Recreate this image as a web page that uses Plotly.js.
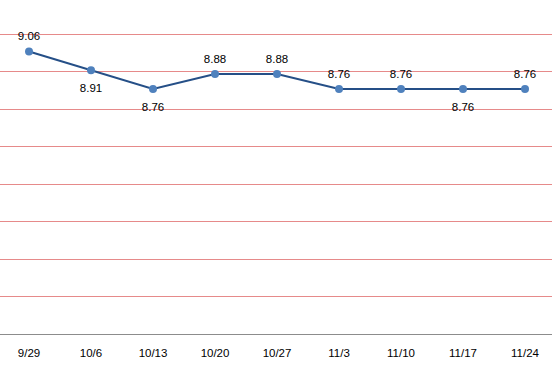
<!DOCTYPE html>
<html>
<head>
<meta charset="utf-8">
<script src="https://cdn.plot.ly/plotly-3.0.1.min.js"></script>
<style>html,body{margin:0;padding:0;background:#fff;}#chart{width:552px;height:377px;}</style>
</head>
<body>
<div id="chart"></div>
<script>
const categories = ["9/29","10/6","10/13","10/20","10/27","11/3","11/10","11/17","11/24"];
const values = [9.06, 8.91, 8.76, 8.88, 8.88, 8.76, 8.76, 8.76, 8.76];
const labelTexts = ["9.06","8.91","8.76","8.88","8.88","8.76","8.76","8.76","8.76"];
const labelPositions = ["top center","bottom center","bottom center","top center","top center","top center","top center","bottom center","top center"];

const FONT = "Liberation Sans, Arial, sans-serif";

const lineTrace = {
  type: "scatter",
  mode: "lines+markers",
  x: categories,
  y: values,
  line: {color: "#254f87", width: 2},
  marker: {color: "#4f81bd", size: 8},
  hoverinfo: "none"
};

function labelTrace(pos, spacerSize) {
  const idx = labelPositions.map((p, i) => p === pos ? i : -1).filter(i => i >= 0);
  return {
    type: "scatter",
    mode: "markers+text",
    x: idx.map(i => categories[i]),
    y: idx.map(i => values[i]),
    text: idx.map(i => labelTexts[i]),
    textposition: pos,
    textfont: {family: FONT, size: 11.5, color: "#000"},
    cliponaxis: false,
    marker: {size: spacerSize, color: "rgba(0,0,0,0)"},
    hoverinfo: "none"
  };
}

const layout = {
  width: 552, height: 377,
  margin: {l: 0, r: 0, t: 31, b: 43, pad: 0},
  paper_bgcolor: "#fff", plot_bgcolor: "#fff",
  showlegend: false,
  font: {family: FONT, size: 11.5, color: "#000"},
  xaxis: {
    type: "category",
    range: [-0.468, 8.435],
    showgrid: false, zeroline: false,
    showline: true, linecolor: "#8c8c8c", linewidth: 1,
    ticks: "outside", ticklen: 8, tickcolor: "rgba(0,0,0,0)",
    tickfont: {family: FONT, size: 11.5, color: "#000"},
    automargin: false
  },
  yaxis: {
    range: [6.8, 9.224],
    tick0: 6.8, dtick: 0.3,
    showgrid: true, gridcolor: "#e68a8a", gridwidth: 1,
    zeroline: false, showline: false,
    showticklabels: false, ticks: "",
    automargin: false
  }
};

Plotly.newPlot("chart", [lineTrace, labelTrace("top center", 12), labelTrace("bottom center", 19)], layout, {displayModeBar: false, staticPlot: true});
</script>
</body>
</html>
